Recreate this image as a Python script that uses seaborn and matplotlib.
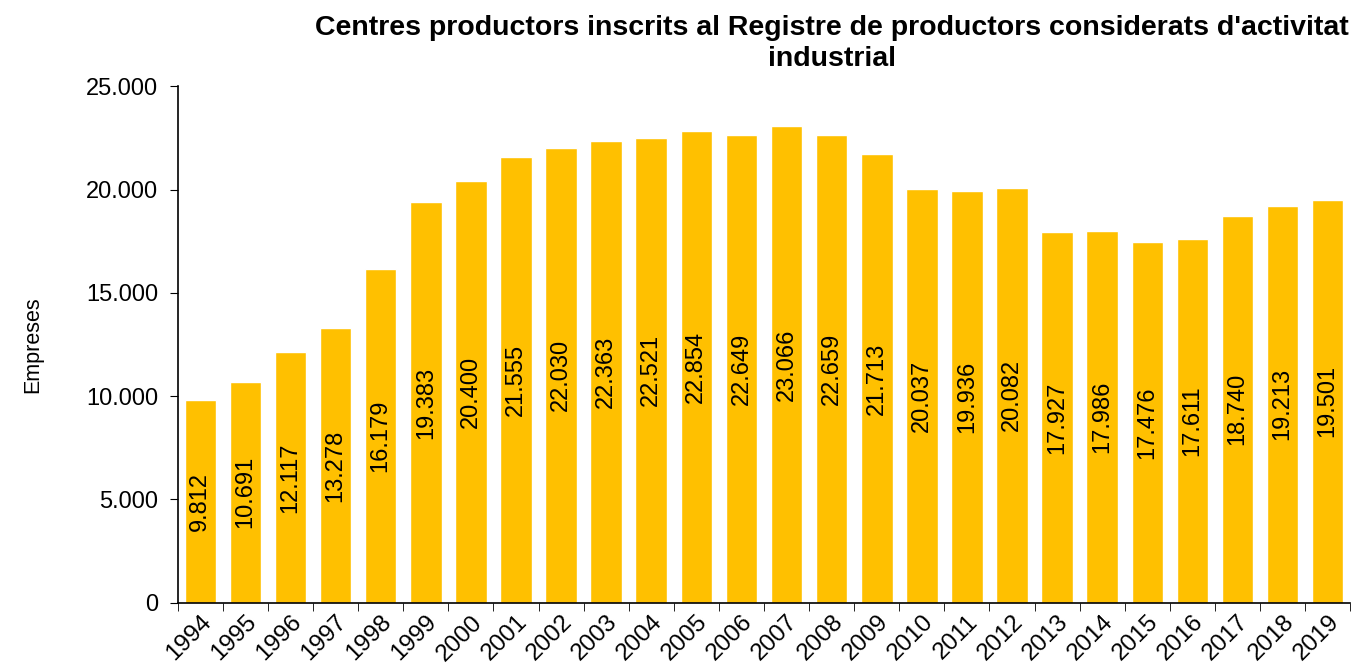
import numpy as np
import pandas as pd
import matplotlib.pyplot as plt
import seaborn as sns
from matplotlib.ticker import FuncFormatter, FixedLocator

years = [str(y) for y in range(1994, 2020)]
empreses = [9812, 10691, 12117, 13278, 16179, 19383, 20400, 21555, 22030, 22363,
            22521, 22854, 22649, 23066, 22659, 21713, 20037, 19936, 20082, 17927,
            17986, 17476, 17611, 18740, 19213, 19501]

df = pd.DataFrame({"year": years, "empreses": empreses})

sns.set_style("white")
plt.rcParams['font.family'] = ['Liberation Sans', 'DejaVu Sans']
plt.rcParams['text.color'] = 'black'
plt.rcParams['xtick.color'] = 'black'
plt.rcParams['ytick.color'] = 'black'
plt.rcParams['axes.labelcolor'] = 'black'

fig = plt.figure(figsize=(13.57, 6.69), dpi=100)
ax = fig.add_axes([0.131, 0.099, 0.864, 0.772])

sns.barplot(data=df, x="year", y="empreses", color="#FFC000", width=0.7,
            saturation=1, ax=ax)

def fmt(v):
    return f"{int(v):,}".replace(",", ".")

ax.bar_label(ax.containers[0], labels=[fmt(v) for v in empreses],
             label_type="center", rotation=90, fontsize=17, color="black")

ax.set_xlim(-0.5, len(years) - 0.5)
ax.set_ylim(0, 25000)
ax.set_yticks(range(0, 25001, 5000))
ax.yaxis.set_major_formatter(FuncFormatter(lambda v, p: fmt(v)))
ax.tick_params(axis="y", labelsize=17, length=6, direction="out", left=True,
               color="black", pad=8)

ax.xaxis.set_minor_locator(FixedLocator(np.arange(-0.5, len(years), 1)))
ax.tick_params(axis="x", which="major", length=0, labelsize=17.5, pad=6)
ax.tick_params(axis="x", which="minor", length=6, direction="out", bottom=True,
               color="black")
for lbl in ax.get_xticklabels():
    lbl.set_rotation(45)
    lbl.set_ha("right")
    lbl.set_rotation_mode("anchor")

ax.set_xlabel("")
ax.set_ylabel("Empreses", fontsize=15.5)
ax.yaxis.set_label_coords(-0.115, 0.5)

for s in ["top", "right"]:
    ax.spines[s].set_visible(False)
for s in ["left", "bottom"]:
    ax.spines[s].set_color("black")
    ax.spines[s].set_linewidth(1.2)

fig.text(0.613, 0.978,
         "Centres productors inscrits al Registre de productors considerats d'activitat\nindustrial",
         ha="center", va="top", fontsize=20.5, fontweight="bold", linespacing=1.25)

fig.savefig("out.png", dpi=100)
